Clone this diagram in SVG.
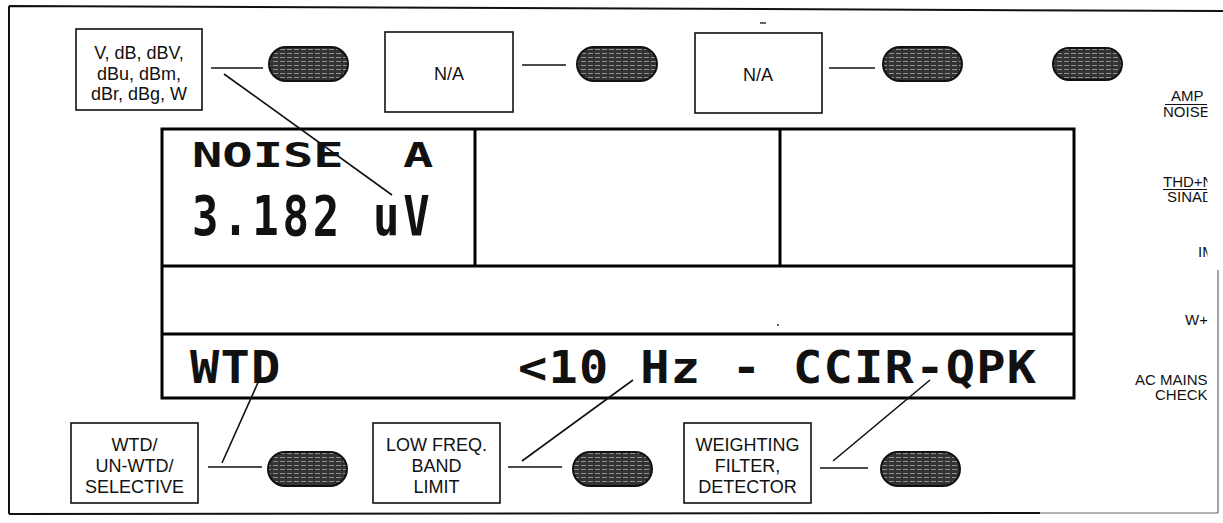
<svg xmlns="http://www.w3.org/2000/svg" width="1223" height="523" viewBox="0 0 1223 523">
<defs>
<style>
.box{fill:#fff;stroke:#111;stroke-width:1.6}
.lbl{font-family:"Liberation Sans",Arial,sans-serif;font-size:18px;fill:#111;text-anchor:middle}
.side{font-family:"Liberation Sans",Arial,sans-serif;font-size:15px;fill:#111}
.pill{fill:url(#tex);stroke:#111;stroke-width:2}
.conn{stroke:#111;stroke-width:1.6;fill:none}
.disp{fill:none;stroke:#000;stroke-width:3}
.lcd{font-family:"DejaVu Sans Mono",monospace;font-weight:bold;fill:#111}
.frame{stroke:#111;stroke-width:2;fill:none}
.uline{stroke:#111;stroke-width:1.2}
</style>
<pattern id="tex" width="7" height="4" patternUnits="userSpaceOnUse">
<rect width="7" height="4" fill="#333"/>
<line x1="0" y1="1.5" x2="5" y2="1.5" stroke="#aaa" stroke-width="0.8"/>
</pattern>
<clipPath id="clipR"><rect x="0" y="0" width="1207.5" height="523"/></clipPath>
</defs>

<g id="frame">
<path class="frame" d="M9,6 L1223,11 M9,6 L9,514 M9,514 L1040,513"/>
<path d="M1040,513 L1218,513 M1218,270 L1218,513" stroke="#666" stroke-width="1.2" fill="none"/>
<line x1="760" y1="23" x2="766" y2="23" stroke="#333" stroke-width="1.5"/>
<circle cx="778" cy="325" r="1" fill="#333"/>
</g>

<g id="display">
<rect class="disp" x="162" y="129" width="912" height="269"/>
<line class="disp" x1="162" y1="266" x2="1074" y2="266"/>
<line class="disp" x1="162" y1="334" x2="1074" y2="334"/>
<line class="disp" x1="475" y1="129" x2="475" y2="266" stroke-width="2.5"/>
<line class="disp" x1="780" y1="129" x2="780" y2="266" stroke-width="2.5"/>
<text class="lcd" font-size="40" transform="translate(192,167) scale(1.26,0.83)">NOISE</text>
<text class="lcd" font-size="40" transform="translate(403,167) scale(1.26,0.83)">A</text>
<text class="lcd" font-size="44" font-weight="normal" letter-spacing="3.7" transform="translate(192,235) scale(1,1.25)">3.182 uV</text>
<text class="lcd" font-size="45" letter-spacing="1.2" transform="translate(190,383) scale(1.08,1)">WTD</text>
<text class="lcd" font-size="45" letter-spacing="1.2" transform="translate(518,383) scale(1.08,1)">&lt;10 Hz - CCIR-QPK</text>
</g>

<g id="node-units">
<rect class="box" x="76" y="29" width="126" height="81"/>
<text class="lbl" x="139" y="59">V, dB, dBV,</text>
<text class="lbl" x="139" y="79.5">dBu, dBm,</text>
<text class="lbl" x="139" y="100">dBr, dBg, W</text>
</g>
<g id="node-na1">
<rect class="box" x="385" y="32" width="128" height="80"/>
<text class="lbl" x="449" y="80">N/A</text>
</g>
<g id="node-na2">
<rect class="box" x="695" y="33" width="127" height="80"/>
<text class="lbl" x="758" y="81">N/A</text>
</g>
<g id="node-wtd">
<rect class="box" x="71" y="423" width="127" height="80"/>
<text class="lbl" x="134.5" y="451">WTD/</text>
<text class="lbl" x="134.5" y="472">UN-WTD/</text>
<text class="lbl" x="134.5" y="493">SELECTIVE</text>
</g>
<g id="node-lowfreq">
<rect class="box" x="373" y="423" width="127" height="80"/>
<text class="lbl" x="436.5" y="451">LOW FREQ.</text>
<text class="lbl" x="436.5" y="472">BAND</text>
<text class="lbl" x="436.5" y="493">LIMIT</text>
</g>
<g id="node-weighting">
<rect class="box" x="684" y="423" width="127" height="80"/>
<text class="lbl" x="747.5" y="451">WEIGHTING</text>
<text class="lbl" x="747.5" y="472">FILTER,</text>
<text class="lbl" x="747.5" y="493">DETECTOR</text>
</g>

<g id="softkeys">
<rect class="pill" x="269" y="47" width="79" height="34" rx="17"/>
<rect class="pill" x="577" y="47" width="80" height="34" rx="17"/>
<rect class="pill" x="883" y="47" width="79" height="34" rx="17"/>
<rect class="pill" x="1053" y="48" width="69" height="32" rx="16"/>
<rect class="pill" x="268" y="452" width="79" height="34" rx="17"/>
<rect class="pill" x="573" y="452" width="79" height="34" rx="17"/>
<rect class="pill" x="881" y="452" width="79" height="34" rx="17"/>
</g>

<g id="connectors">
<line class="conn" x1="211" y1="68" x2="263" y2="68"/>
<line class="conn" x1="522" y1="65" x2="566" y2="65"/>
<line class="conn" x1="829" y1="68" x2="875" y2="68"/>
<line class="conn" x1="208" y1="467" x2="262" y2="467"/>
<line class="conn" x1="508" y1="467" x2="562" y2="467"/>
<line class="conn" x1="820" y1="468" x2="868" y2="468"/>
<line class="conn" x1="224" y1="74" x2="392" y2="195"/>
<line class="conn" x1="222" y1="463" x2="260" y2="378"/>
<line class="conn" x1="522" y1="461" x2="633" y2="380"/>
<line class="conn" x1="833" y1="461" x2="930" y2="380"/>
</g>

<g id="side-labels" clip-path="url(#clipR)">
<text class="side" x="1171" y="101">AMP</text>
<line class="uline" x1="1165" y1="104.5" x2="1207" y2="104.5"/>
<text class="side" x="1163" y="117">NOISE</text>
<text class="side" x="1163" y="187">THD+N</text>
<line class="uline" x1="1163" y1="189.5" x2="1207" y2="189.5"/>
<text class="side" x="1167" y="202">SINAD</text>
<text class="side" x="1198" y="257">IM</text>
<text class="side" x="1185" y="325">W+</text>
<text class="side" x="1135" y="385" font-size="13.5">AC MAINS</text>
<text class="side" x="1155" y="400" font-size="13.5">CHECK</text>
</g>
</svg>
